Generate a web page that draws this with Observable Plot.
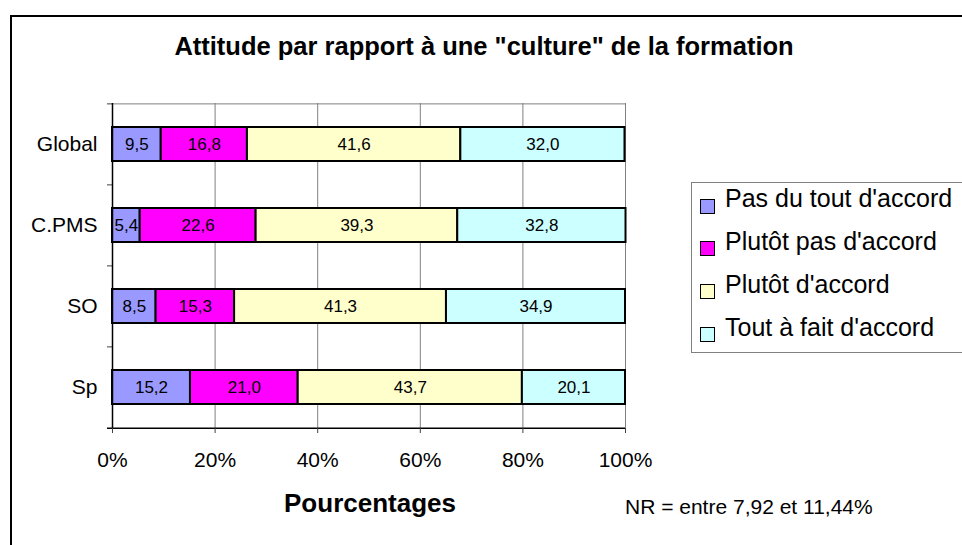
<!DOCTYPE html>
<html>
<head>
<meta charset="utf-8">
<script src="https://cdn.jsdelivr.net/npm/d3@7"></script>
<script src="https://cdn.jsdelivr.net/npm/@observablehq/plot@0.6"></script>
<style>
  html, body { margin: 0; padding: 0; background: #fff; }
  body { width: 962px; height: 545px; overflow: hidden; position: relative; font-family: "Liberation Sans", Arial, sans-serif; color: #000; }
  #chart { position: absolute; left: 0; top: 0; }
  .frame { position: absolute; left: 10px; top: 15px; width: 1000px; height: 600px; border: 2px solid #000; pointer-events: none; }
  .title { position: absolute; left: 484px; top: 34px; transform: translateX(-50%); font-size: 25.5px; line-height: 1; font-weight: bold; white-space: nowrap; }
  .xlabel { position: absolute; left: 370px; top: 490px; transform: translateX(-50%); font-size: 26px; line-height: 1; font-weight: bold; white-space: nowrap; }
  .note { position: absolute; left: 625px; top: 496px; font-size: 21px; line-height: 1; white-space: nowrap; }
  .legend { position: absolute; left: 691px; top: 182px; width: 300px; height: 169px; border: 1px solid #808080; }
  .legend .item { position: absolute; left: 33px; font-size: 25px; line-height: 1; white-space: nowrap; }
  .legend .sw { position: absolute; left: 8px; width: 13px; height: 13px; border: 1px solid #000; }
</style>
</head>
<body>
<div id="chart"></div>
<div class="title" id="title"></div>
<div class="xlabel" id="xlabel"></div>
<div class="note" id="note"></div>
<div class="legend" id="legend"></div>
<div class="frame"></div>
<script>
const categories = ["Global", "C.PMS", "SO", "Sp"];
const responses = ["Pas du tout d'accord", "Plutôt pas d'accord", "Plutôt d'accord", "Tout à fait d'accord"];
const colors = ["#9999FF", "#FF00FF", "#FFFFCC", "#CCFFFF"];
const pasDuTout = [9.5, 5.4, 8.5, 15.2];
const plutotPas = [16.8, 22.6, 15.3, 21.0];
const plutotDaccord = [41.6, 39.3, 41.3, 43.7];
const toutAFait = [32.0, 32.8, 34.9, 20.1];
const xTicks = [0, 20, 40, 60, 80, 100];
const titleText = "Attitude par rapport à une \"culture\" de la formation";
const xLabelText = "Pourcentages";
const noteText = "NR = entre 7,92 et 11,44%";

const series = [pasDuTout, plutotPas, plutotDaccord, toutAFait];
const rows = [];
categories.forEach((cat, i) => {
  responses.forEach((resp, j) => rows.push({cat, resp, value: series[j][i]}));
});
const fmt = v => v.toFixed(1).replace(".", ",");

const plotTop = 103, plotBottom = 428;
const step = (plotBottom - plotTop) / categories.length;

const chart = Plot.plot({
  width: 962,
  height: 545,
  marginLeft: 112,
  marginRight: 337,
  marginTop: plotTop,
  marginBottom: 545 - plotBottom,
  style: {background: "transparent", fontFamily: "'Liberation Sans', Arial, sans-serif", color: "#000"},
  x: {domain: [0, 100]},
  y: {domain: categories, paddingInner: 0.58, paddingOuter: 0.29},
  color: {domain: responses, range: colors},
  marks: [
    Plot.ruleX(xTicks.slice(1), {stroke: "#808080", strokeWidth: 1}),
    Plot.ruleY([categories[0]], {y: d => d, dy: -step / 2, x1: 0, x2: 100, stroke: "#808080", strokeWidth: 1}),
    Plot.ruleY(categories, {y: d => d, dy: -step / 2, x1: 0, x2: 0, insetLeft: -5, stroke: "#404040", strokeWidth: 1}),
    Plot.barX(rows, Plot.stackX({x: "value", y: "cat", z: "resp", fill: "resp", order: responses, stroke: "#000", strokeWidth: 2})),
    Plot.text(rows, Plot.stackX({x: "value", y: "cat", z: "resp", order: responses, text: d => fmt(d.value), fontSize: 17, fill: "#000"})),
    Plot.ruleX([0], {stroke: "#000", strokeWidth: 1.5}),
    Plot.ruleY([categories[categories.length - 1]], {y: d => d, dy: step / 2, x1: 0, x2: 100, insetLeft: -5, stroke: "#000", strokeWidth: 1.5}),
    Plot.axisX({ticks: xTicks, tickFormat: d => d + "%", tickSize: 5, tickPadding: 19, fontSize: 21, label: null, stroke: "#404040", fill: "#000"}),
    Plot.axisY({tickSize: 0, tickPadding: 15, fontSize: 21, label: null, fill: "#000"})
  ]
});
document.getElementById("chart").appendChild(chart);

document.getElementById("title").textContent = titleText;
document.getElementById("xlabel").textContent = xLabelText;
document.getElementById("note").textContent = noteText;

const legend = document.getElementById("legend");
const rowBaselines = [24.5, 67.3, 110, 153];
responses.forEach((r, i) => {
  const sw = document.createElement("div");
  sw.className = "sw";
  sw.style.background = colors[i];
  sw.style.top = (rowBaselines[i] - 9) + "px";
  legend.appendChild(sw);
  const t = document.createElement("div");
  t.className = "item";
  t.textContent = r;
  t.style.top = (rowBaselines[i] - 21.2) + "px";
  legend.appendChild(t);
});
</script>
</body>
</html>
